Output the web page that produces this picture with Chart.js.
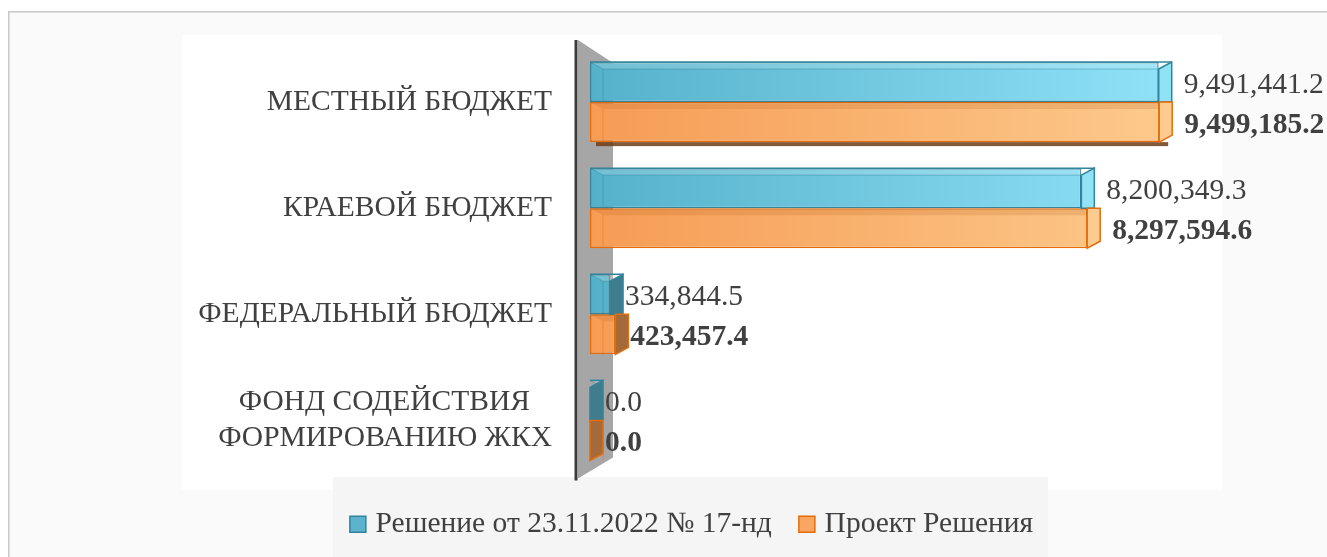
<!DOCTYPE html>
<html lang="ru">
<head>
<meta charset="utf-8">
<title>Бюджет</title>
<script src="https://cdn.jsdelivr.net/npm/chart.js@4.4.0/dist/chart.umd.min.js"></script>
<style>
  html, body { margin: 0; padding: 0; background: #fff; }
  #wrap { width: 1327px; height: 557px; }
</style>
</head>
<body>
<div id="wrap"><canvas id="budgetChart" width="1327" height="557"></canvas></div>
<script>
/* Chart data */
const categories = ['МЕСТНЫЙ БЮДЖЕТ', 'КРАЕВОЙ БЮДЖЕТ', 'ФЕДЕРАЛЬНЫЙ БЮДЖЕТ', ['ФОНД СОДЕЙСТВИЯ', 'ФОРМИРОВАНИЮ ЖКХ']];
const seriesNames = ['Решение от 23.11.2022 № 17-нд', 'Проект Решения'];
const decisionValues = [9491441.2, 8200349.3, 334844.5, 0.0];
const projectValues = [9499185.2, 8297594.6, 423457.4, 0.0];

const FONT = "'Liberation Serif', 'Times New Roman', serif";
const FONT_SIZE = 29.5;
const TEXT = '#404040';
Chart.defaults.font.family = FONT;
Chart.defaults.color = TEXT;

const borderColors = ['#31849b', '#e46c0a'];
const legendFill = ['#5bb4cc', '#f9a662'];
const sideDark = ['#3f7d8e', '#a56a3c'];
const sideLight = ['rgba(140,224,246,0.95)', 'rgba(253,200,138,0.95)'];

function barFill(from, to) {
  return (ctx) => {
    const a = ctx.chart.chartArea;
    if (!a) return from;
    const g = ctx.chart.ctx.createLinearGradient(a.left, 0, a.left + 580, 0);
    g.addColorStop(0, from);
    g.addColorStop(1, to);
    return g;
  };
}

// pad the shorter line so a two-line label reads centred inside a right-aligned block
const measureCtx = document.createElement('canvas').getContext('2d');
function centerLines(lines, font) {
  measureCtx.font = font;
  const widths = lines.map(l => measureCtx.measureText(l).width);
  const maxW = Math.max(...widths);
  const space = measureCtx.measureText(' ').width;
  return lines.map((l, i) => l + ' '.repeat(Math.round((maxW - widths[i]) / 2 / space)));
}

const fmt = v => v.toLocaleString('en-US', { minimumFractionDigits: 1, maximumFractionDigits: 1 });

/* Backgrounds: outer frame, plot panel, legend panel */
const backdrop = {
  id: 'backdrop',
  beforeDraw(chart) {
    const c = chart.ctx;
    c.save();
    c.fillStyle = '#ffffff';
    c.fillRect(0, 0, chart.width, chart.height);
    c.fillStyle = '#fafafa';
    c.fillRect(9, 12, chart.width, chart.height);
    c.strokeStyle = '#c8c8c8';
    c.lineWidth = 1.5;
    c.beginPath();
    c.moveTo(8.75, chart.height);
    c.lineTo(8.75, 11.75);
    c.lineTo(chart.width, 11.75);
    c.stroke();
    c.fillStyle = '#ffffff';
    c.fillRect(182, 35, 1040, 455);
    c.fillStyle = '#f5f5f5';
    c.fillRect(333, 477, 715, 80);
    c.restore();
  }
};

/* Grey 3D wall behind the category axis */
const wall = {
  id: 'wall',
  beforeDatasetsDraw(chart) {
    const { ctx: c, chartArea: a } = chart;
    const x0 = a.left - 12, x1 = a.left + 23;
    c.save();
    c.fillStyle = '#a6a6a6';
    c.beginPath();
    c.moveTo(x0, a.top - 9);
    c.lineTo(x1, a.top + 14);
    c.lineTo(x1, a.bottom - 16);
    c.lineTo(x0, a.bottom + 5);
    c.closePath();
    c.fill();
    c.strokeStyle = '#3b3b3b';
    c.lineWidth = 3;
    c.beginPath();
    c.moveTo(a.left - 14, a.top - 9);
    c.lineTo(a.left - 14, a.bottom + 7);
    c.stroke();
    c.restore();
  }
};

/* Fake depth on each bar, then the value labels */
const box3d = {
  id: 'box3d',
  afterDatasetsDraw(chart) {
    const c = chart.ctx, a = chart.chartArea;
    const mid = (a.left + a.right) / 2, eyeY = 250;
    const dx = 13, dy = 7;
    chart.data.datasets.forEach((ds, i) => {
      chart.getDatasetMeta(i).data.forEach((bar, j) => {
        const { x, y, base, height } = bar.getProps(['x', 'y', 'base', 'height'], true);
        const top = y - height / 2, bottom = y + height / 2;
        const short = x < mid;
        c.save();
        c.lineWidth = 1.5;
        c.strokeStyle = ds.borderColor;
        if (i === 0) {
          // top face
          c.fillStyle = 'rgba(255,255,255,0.18)';
          c.beginPath();
          c.moveTo(base, top); c.lineTo(x + dx, top); c.lineTo(x, top + dy); c.lineTo(base + dx, top + dy);
          c.closePath(); c.fill();
          c.globalAlpha = 0.45; c.lineWidth = 1;
          c.beginPath();
          c.moveTo(base, top); c.lineTo(base + dx, top + dy); c.lineTo(x, top + dy);
          c.moveTo(base + dx, top + dy); c.lineTo(base + dx, bottom);
          c.stroke();
          c.globalAlpha = 1; c.lineWidth = 1.5;
          // end cap
          c.fillStyle = short ? sideDark[i] : sideLight[i];
          c.beginPath();
          c.moveTo(x, top + dy); c.lineTo(x + dx, top); c.lineTo(x + dx, bottom); c.lineTo(x, bottom);
          c.closePath(); c.fill(); c.stroke();
          c.beginPath(); c.moveTo(base, top); c.lineTo(x + dx, top); c.stroke();
        } else {
          // shaded top strip
          c.fillStyle = 'rgba(170,80,10,0.16)';
          c.beginPath();
          c.moveTo(base, top); c.lineTo(x, top); c.lineTo(x, top + dy); c.lineTo(base + dx, top + dy);
          c.closePath(); c.fill();
          c.globalAlpha = 0.4; c.lineWidth = 1;
          c.beginPath(); c.moveTo(base + dx, top + dy); c.lineTo(base + dx, bottom); c.stroke();
          c.globalAlpha = 1; c.lineWidth = 1.5;
          // underside shadow for bars above eye level
          const under = Math.max(0, Math.round((eyeY - bottom) / 25));
          if (under > 0) {
            c.fillStyle = 'rgba(110,60,20,0.85)';
            c.fillRect(base + 6, bottom, x + dx - base - 10, under);
          }
          // end cap
          c.fillStyle = short ? sideDark[i] : sideLight[i];
          c.beginPath();
          c.moveTo(x, top); c.lineTo(x + dx, top); c.lineTo(x + dx, bottom - dy); c.lineTo(x, bottom);
          c.closePath(); c.fill(); c.stroke();
        }
        c.restore();

        // value label
        c.save();
        c.font = (i === 1 ? 'bold ' : '') + FONT_SIZE + 'px ' + FONT;
        c.fillStyle = TEXT;
        c.textAlign = 'left';
        c.textBaseline = 'middle';
        c.fillText(fmt(ds.data[j]), x + dx + (short ? 2 : 12), y + 3);
        c.restore();
      });
    });
  }
};

const chart = new Chart(document.getElementById('budgetChart'), {
  type: 'bar',
  data: {
    labels: categories,
    datasets: [
      {
        label: seriesNames[0],
        data: decisionValues,
        backgroundColor: barFill('#55b1ca', '#90e2f8'),
        borderColor: borderColors[0],
        borderWidth: 1.5,
        borderSkipped: false
      },
      {
        label: seriesNames[1],
        data: projectValues,
        backgroundColor: barFill('#f69c55', '#fdca8c'),
        borderColor: borderColors[1],
        borderWidth: 1.5,
        borderSkipped: false
      }
    ]
  },
  options: {
    indexAxis: 'y',
    responsive: false,
    animation: false,
    layout: { padding: { top: 49, left: 61, right: 0, bottom: 8 } },
    datasets: { bar: { categoryPercentage: 0.755, barPercentage: 1.0 } },
    scales: {
      x: {
        min: 0,
        max: 12300000,
        grid: { display: false, drawTicks: false },
        border: { display: false },
        ticks: { display: false },
        afterFit(scale) { scale.height = 4; }
      },
      y: {
        grid: { display: false, drawTicks: false },
        border: { display: false },
        ticks: {
          color: TEXT,
          padding: 38,
          font: { size: FONT_SIZE },
          callback(value) {
            const lab = this.getLabelForValue(value);
            return Array.isArray(lab) ? centerLines(lab, FONT_SIZE + 'px ' + FONT) : lab;
          }
        },
        afterFit(scale) {
          scale.width = 529;
          scale.paddingTop = 0;
          scale.paddingBottom = 0;
        }
      }
    },
    plugins: {
      tooltip: { enabled: false },
      legend: {
        position: 'bottom',
        labels: {
          color: TEXT,
          font: { size: FONT_SIZE },
          usePointStyle: true,
          boxWidth: 6,
          boxHeight: 16,
          padding: 32,
          generateLabels(ch) {
            return ch.data.datasets.map((ds, i) => ({
              text: ds.label,
              fillStyle: legendFill[i],
              strokeStyle: borderColors[i],
              lineWidth: 1.5,
              pointStyle: 'rect',
              hidden: false,
              datasetIndex: i,
              fontColor: TEXT
            }));
          }
        }
      }
    }
  },
  plugins: [backdrop, wall, box3d]
});
</script>
</body>
</html>
